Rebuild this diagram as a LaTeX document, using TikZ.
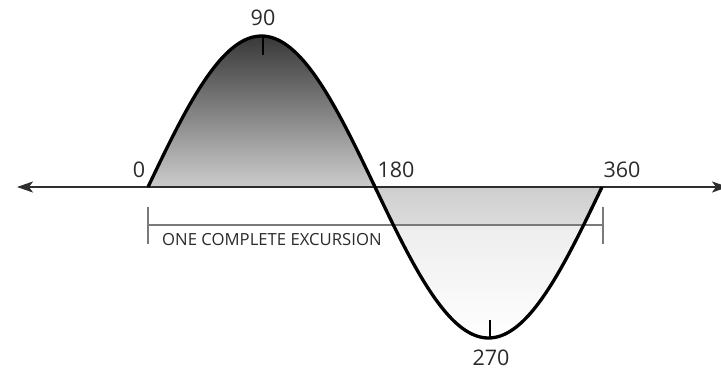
\documentclass[tikz,border=0pt]{standalone}
\usepackage{fontspec}
\setmainfont{Open Sans}
\usetikzlibrary{arrows.meta}
\definecolor{txt}{HTML}{2A2A2A}
\definecolor{axisc}{HTML}{2E2E2E}
\definecolor{brk}{HTML}{7A7A7A}
\begin{document}
\begin{tikzpicture}[x=1pt,y=-1pt,
  lbl/.style={inner sep=0pt,text=txt,font=\fontsize{21.5}{24}\selectfont},
  captext/.style={inner sep=0pt,text=txt,font=\fontsize{16.7}{18}\selectfont},
  wave/.style={line width=3.3pt,black,line join=round},
  axisline/.style={line width=2pt,axisc},
  bracket/.style={line width=1.3pt,brk},
  tickmark/.style={line width=1.3pt,black}]
\useasboundingbox (0,0) rectangle (721,370);
% coordinates
\coordinate (z0) at (148,187);
\coordinate (z180) at (375,187);
\coordinate (z360) at (602,187);
\coordinate (pk) at (261.5,36);
\coordinate (tr) at (488.5,338);
\coordinate (axL) at (17,187);
\coordinate (axR) at (728,187);
% fills
\shade[top color=black!78, bottom color=black!20]
  plot[domain=0:180,samples=90] ({148+\x*1.261111},{187-151*sin(\x)}) -- cycle;
\begin{scope}
  \clip plot[domain=180:360,samples=90] ({148+\x*1.261111},{187-151*sin(\x)}) -- cycle;
  \shade[top color=black!19, bottom color=black!14] (370,187) rectangle (610,225);
  \shade[top color=black!7, bottom color=white] (370,225) rectangle (610,340);
\end{scope}
% bracket
\draw[bracket] (148,207) -- (148,244);
\draw[bracket] (603,207) -- (603,244);
\draw[bracket] (148,225) -- (603,225);
% axis
\draw[axisline,{Stealth[length=16pt,width=11pt,inset=4pt]}-{Stealth[length=16pt,width=11pt,inset=4pt]}] (axL) -- (axR);
% wave
\draw[wave] plot[domain=0:360,samples=180] ({148+\x*1.261111},{187-151*sin(\x)});
% ticks
\draw[tickmark] (263,36) -- (263,55);
\draw[tickmark] (490,320) -- (490,337);
% labels
\node[lbl] (l0) at (139,170) {0};
\node[lbl] (l90) at (263,18) {90};
\node[lbl] (l180) at (396,170) {180};
\node[lbl] (l360) at (622,170) {360};
\node[lbl] (l270) at (491,358) {270};
\node[captext,anchor=west] (oce) at (162,240) {ONE COMPLETE EXCURSION};
\end{tikzpicture}
\end{document}
